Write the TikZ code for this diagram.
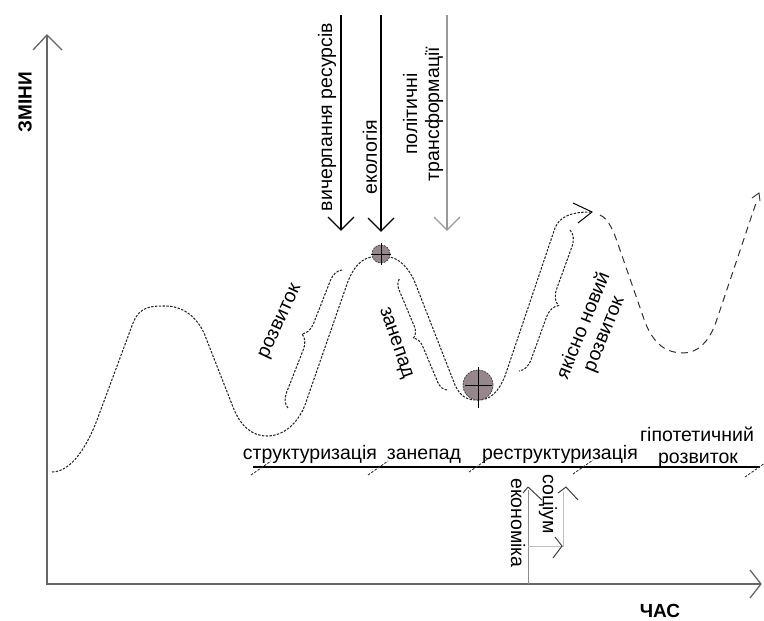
\documentclass[tikz,border=0pt]{standalone}
\usepackage{fontspec}
\setmainfont{Liberation Sans}
\usetikzlibrary{decorations.pathreplacing}
\definecolor{ballc}{RGB}{150,135,140}
\begin{document}
\begin{tikzpicture}[x=1pt,y=-1pt,
  curve/.style={draw=black!85, line width=1.05pt, dash pattern=on 2.4pt off 1.4pt},
  hypo/.style={draw=black!80, line width=1pt, dash pattern=on 7pt off 5pt},
  axis/.style={draw=black!60, line width=1.3pt},
  ptr/.style={draw=black, line width=1.2pt},
  lbl/.style={font=\fontsize{19.5}{22}\selectfont, inner sep=0pt},
  ttl/.style={font=\fontsize{19}{22}\selectfont\bfseries, inner sep=0pt},
  ball/.style={fill=ballc, draw=black!70, line width=0.8pt, dash pattern=on 2pt off 1pt},
  tick/.style={draw=black!80, line width=0.9pt, dash pattern=on 2.5pt off 1.5pt}
]
\useasboundingbox (0,0) rectangle (764,621);
% axes
\draw[axis] (47,585) -- (47,35);
\draw[axis] (33,50) -- (47,35) -- (62,50);
\draw[axis] (47,584) -- (760,584);
\draw[axis] (750,570) -- (761,584) -- (750,598);
\node[ttl, rotate=90] (zm) at (25,102) {ЗМІНИ};
\node[ttl] (chas) at (660,611) {ЧАС};
% top arrows
\draw[ptr] (341,15) -- (341,230);
\draw[ptr] (328,217) -- (341,230) -- (354,217);
\node[lbl, rotate=90] (vr) at (327,117) {вичерпання ресурсів};
\draw[ptr] (381,15) -- (381,231);
\draw[ptr] (368,218) -- (381,231) -- (394,218);
\node[lbl, rotate=90] (ek) at (370,157) {екологія};
\draw[ptr, draw=black!40] (447,15) -- (447,230);
\draw[ptr, draw=black!40] (434,217) -- (447,230) -- (460,217);
\node[lbl, rotate=90, align=center] (pt) at (423,114) {політичні\\трансформації};
% main curve
\draw[curve] (52,472) .. controls (72,472) and (88,444) .. (97,420) -- (133,323)
  .. controls (140,306) and (151,306) .. (166,306)
  .. controls (182,306) and (196,316) .. (204,333) -- (233,407)
  .. controls (240,425) and (251,436) .. (267,436)
  .. controls (284,436) and (298,423) .. (305,405) -- (347,284)
  .. controls (356,259) and (368,256) .. (381,256)
  .. controls (395,256) and (405,262) .. (414,280) -- (455,385)
  .. controls (461,398) and (468,400) .. (478,400)
  .. controls (490,400) and (498,393) .. (505,376) -- (555,228)
  .. controls (560,216) and (572,212) .. (590,212);
\draw[ptr, line width=1pt] (573,203) -- (592,212) -- (578,223);
% hypothetical
\draw[hypo] (600,215) .. controls (609,219) and (614,232) .. (620,250) -- (645,322)
  .. controls (654,345) and (667,353) .. (683,353)
  .. controls (698,353) and (708,342) .. (715,325) -- (757,200);
\draw[draw=black!80, line width=0.9pt] (752,198) -- (759,193) -- (760,201);
% braces
\draw[curve, decorate, decoration={brace, amplitude=14pt}] (288,408) -- (342,270);
\draw[curve, decorate, decoration={brace, amplitude=11pt}] (447,390) -- (400,278);
\draw[curve, decorate, decoration={brace, amplitude=15pt}] (570,230) -- (519,371);
\node[lbl, rotate=65] (rz) at (281,322) {розвиток};
\node[lbl, rotate=-71] (zn) at (395,343) {занепад};
\node[lbl, rotate=68, align=center] (yn) at (594,330) {якісно новий\\розвиток};
% balls
\path[ball] (381,254) circle (9pt);
\draw[black, line width=0.9pt] (381,243) -- (381,265) (371,254) -- (391,254);
\path[ball] (478,385) circle (15pt);
\draw[black, line width=1pt] (478,367) -- (478,408) (465,385) -- (492,385);
% timeline
\draw[black, line width=1.1pt] (253,467) -- (760,467);
\foreach \cx/\cy in {261/468,378/468,479/465,583/467,755/470}
  \draw[tick, shift={(\cx,\cy)}] (-10,7) -- (10,-7);
\node[lbl, anchor=base] (s1) at (310,459) {структуризація};
\node[lbl, anchor=base] (s2) at (424,459) {занепад};
\node[lbl, anchor=base] (s3) at (560,459) {реструктуризація};
\node[lbl, anchor=base] (s4) at (697,441) {гіпотетичний};
\node[lbl, anchor=base] (s5) at (698,463) {розвиток};
% bottom arrows
\draw[draw=black!45, line width=1pt] (528,584) -- (528,490);
\draw[draw=black!75, line width=1pt] (523,493) -- (528,487) -- (542,500);
\node[lbl, rotate=-90] (ec) at (518,523) {економіка};
\draw[draw=black!25, line width=1pt] (528,546) -- (563,546) -- (563,492);
\draw[draw=black!75, line width=1pt] (558,493) -- (566,487) -- (578,500);
\draw[draw=black!75, line width=1pt] (555,537) -- (562,546) -- (553,558);
\node[lbl, rotate=-90] (so) at (548,504) {соціум};
\end{tikzpicture}
\end{document}
